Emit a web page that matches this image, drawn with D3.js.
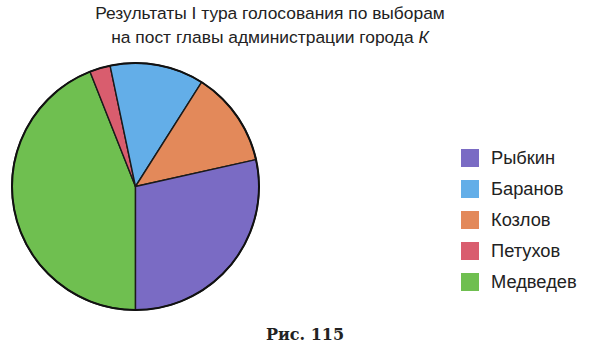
<!DOCTYPE html>
<html>
<head>
<meta charset="utf-8">
<script src="https://cdn.jsdelivr.net/npm/d3@7"></script>
<style>
  body { margin: 0; background: #fff; }
  .title { font-family: "Liberation Sans", Arial, sans-serif; font-size: 17.4px; fill: #222; }
  .legend-label { font-family: "Liberation Sans", Arial, sans-serif; font-size: 18.3px; fill: #222; }
  .caption { font-family: "DejaVu Serif", "Liberation Serif", serif; font-size: 16px; font-weight: bold; fill: #222; }
</style>
</head>
<body>
<div id="chart"></div>
<script>
// Candidates in legend order, share of votes (%)
const candidates = ['Рыбкин', 'Баранов', 'Козлов', 'Петухов', 'Медведев'];
const votes = [28.5, 12.3, 12.5, 2.7, 44];
const colors = ['#7a6bc4', '#63aee8', '#e3895a', '#d95d6e', '#6fbf50'];

// order of slices around the pie, clockwise from 6 o'clock
const sliceOrder = ['Медведев', 'Петухов', 'Баранов', 'Козлов', 'Рыбкин'];

const titleLines = [
  'Результаты I тура голосования по выборам',
  'на пост главы администрации города '
];
const titleItalic = 'К';
const caption = 'Рис. 115';

/*
 * Layout
 */
const width = 589;
const height = 352;
const cx = 135.5;
const cy = 186.5;
const radius = 123.5;

const titleX = 270;

const legendX = 461;
const legendY = 158;
const legendStep = 31;
const swatch = 18;

const svg = d3.select('#chart')
  .append('svg')
    .attr('width', width)
    .attr('height', height);

const color = d3.scaleOrdinal()
    .domain(candidates)
    .range(colors);

const voteOf = new Map(candidates.map((c, i) => [c, votes[i]]));

/*
 * Title
 */
const title = svg.append('text')
    .attr('class', 'title')
    .attr('text-anchor', 'middle')
    .attr('x', titleX);

title.append('tspan')
    .attr('x', titleX)
    .attr('y', 19)
    .text(titleLines[0]);

title.append('tspan')
    .attr('x', titleX)
    .attr('y', 43)
    .text(titleLines[1]);
title.append('tspan')
    .attr('font-style', 'italic')
    .text(titleItalic);

/*
 * Pie
 */
const pie = d3.pie()
    .sort(null)
    .value((d) => voteOf.get(d))
    .startAngle(Math.PI)
    .endAngle(3 * Math.PI);

const arc = d3.arc()
    .innerRadius(0)
    .outerRadius(radius);

const pieGroup = svg.append('g')
    .attr('transform', `translate(${cx}, ${cy})`);

pieGroup.selectAll('path')
  .data(pie(sliceOrder))
  .join('path')
    .attr('d', arc)
    .attr('fill', (d) => color(d.data))
    .attr('stroke', '#1a1a1a')
    .attr('stroke-width', 1.4)
    .attr('stroke-linejoin', 'round');

pieGroup.append('circle')
    .attr('r', radius)
    .attr('fill', 'none')
    .attr('stroke', '#111')
    .attr('stroke-width', 2);

/*
 * Legend
 */
const legendScale = d3.scaleBand()
    .domain(candidates)
    .range([legendY - legendStep / 2, legendY - legendStep / 2 + legendStep * candidates.length]);

const legend = svg.append('g')
  .selectAll('g')
  .data(candidates)
  .join('g')
    .attr('transform', (d) => `translate(${legendX}, ${legendScale(d) + legendScale.bandwidth() / 2})`);

legend.append('rect')
    .attr('x', 0)
    .attr('y', -swatch / 2)
    .attr('width', swatch)
    .attr('height', swatch)
    .attr('fill', (d) => color(d));

legend.append('text')
    .attr('class', 'legend-label')
    .attr('x', 30)
    .attr('dy', '0.35em')
    .text((d) => d);

/*
 * Caption
 */
svg.append('text')
    .attr('class', 'caption')
    .attr('text-anchor', 'middle')
    .attr('x', 305)
    .attr('y', 340)
    .text(caption);
</script>
</body>
</html>
